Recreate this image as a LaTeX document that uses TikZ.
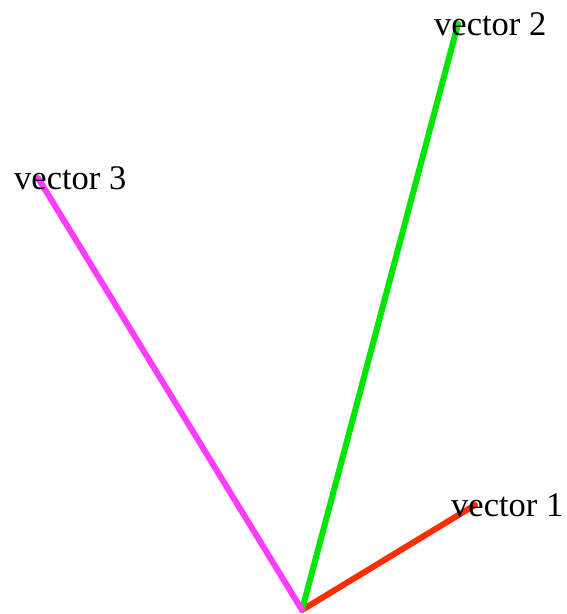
\documentclass[tikz,border=0pt]{standalone}
\usepackage{fontspec}
\setmainfont{Liberation Serif}
\usepackage{tikz}
\usetikzlibrary{positioning}

\definecolor{vecred}{RGB}{255,45,0}
\definecolor{vecgreen}{RGB}{0,230,0}
\definecolor{vecmagenta}{RGB}{255,60,255}

\begin{document}
\begin{tikzpicture}[x=1pt, y=1pt, font=\fontsize{34.5}{37}\selectfont,
  vec/.style={line width=6pt, line cap=round},
  veclabel/.style={anchor=base west, inner sep=0pt, xshift=-24pt, yshift=-12pt}]
  \useasboundingbox (0,0) rectangle (567,614);
  \coordinate (O) at (302,4);
  \coordinate (v1) at (475,109);
  \coordinate (v2) at (458,590);
  \coordinate (v3) at (38,436);
  \draw[vec, vecred] (O) -- (v1);
  \draw[vec, vecgreen] (O) -- (v2);
  \draw[vec, vecmagenta] (O) -- (v3);
  \node[veclabel] (lab1) at (v1) {vector 1};
  \node[veclabel] (lab2) at (v2) {vector 2};
  \node[veclabel] (lab3) at (v3) {vector 3};
\end{tikzpicture}
\end{document}
